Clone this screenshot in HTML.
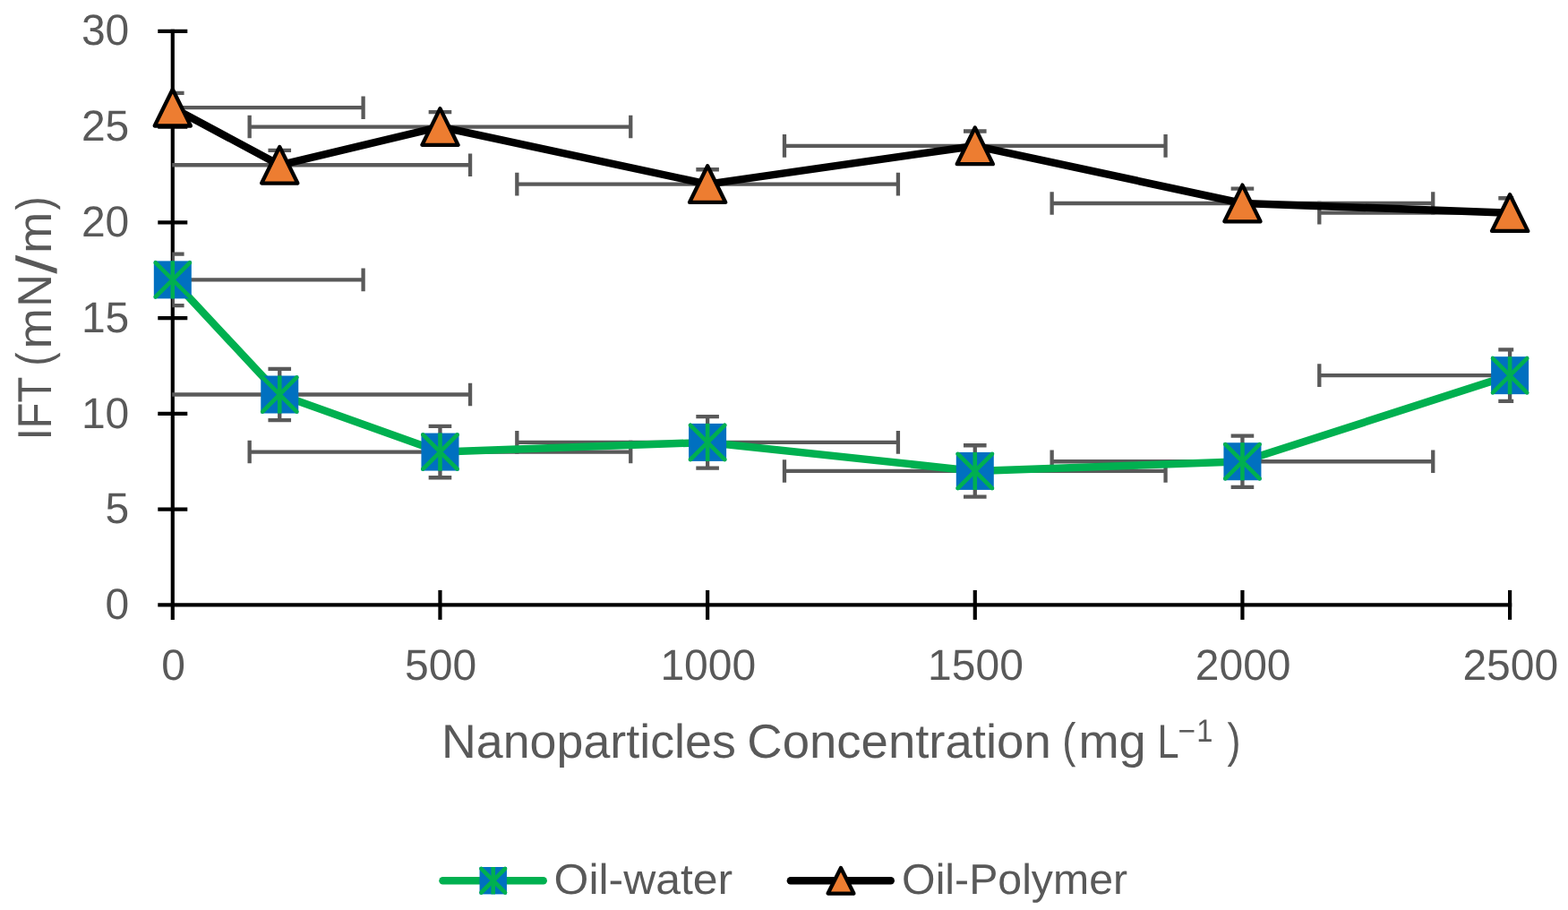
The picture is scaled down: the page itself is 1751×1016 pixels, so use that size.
<!DOCTYPE html>
<html lang="en"><head><meta charset="utf-8"><title>IFT vs Nanoparticles Concentration</title>
<style>
html,body{margin:0;padding:0;background:#fff;}
body{width:1751px;height:1016px;overflow:hidden;}
svg{display:block;}
text{font-family:"Liberation Sans",sans-serif;fill:#595959;text-rendering:geometricPrecision;}
.ax{stroke:#000;stroke-width:4.2;fill:none;stroke-linecap:butt;}
.eb{stroke:#595959;stroke-width:4.3;fill:none;stroke-linecap:butt;}
.ln{fill:none;stroke-width:8.5;stroke-linejoin:round;stroke-linecap:round;}
.sq{fill:#0070C0;}
.st{stroke:#00B050;stroke-width:4.6;stroke-linecap:round;fill:none;}
.sv{stroke-linecap:butt;}
.tr{fill:#ED7D31;stroke:#000;stroke-width:4.3;stroke-linejoin:round;}
</style></head><body>
<svg width="1751" height="1016" viewBox="0 0 1751 1016" role="img" aria-label="IFT (mN/m) versus nanoparticles concentration (mg L-1) for Oil-water and Oil-Polymer">
<rect width="1751" height="1016" fill="#fff"/>
<defs><clipPath id="plot"><rect x="192.2" y="32.8" width="1498" height="644.6"/></clipPath></defs>
<g class="ax">
<line x1="192.8" y1="32.7" x2="192.8" y2="691.9"/>
<line x1="176.3" y1="675.4" x2="1688.2" y2="675.4"/>
<line x1="176.3" y1="568.63" x2="209.3" y2="568.63"/>
<line x1="176.3" y1="461.87" x2="209.3" y2="461.87"/>
<line x1="176.3" y1="355.1" x2="209.3" y2="355.1"/>
<line x1="176.3" y1="248.33" x2="209.3" y2="248.33"/>
<line x1="176.3" y1="141.57" x2="209.3" y2="141.57"/>
<line x1="176.3" y1="34.8" x2="209.3" y2="34.8"/>
<line x1="491.46" y1="658.9" x2="491.46" y2="691.9"/>
<line x1="790.12" y1="658.9" x2="790.12" y2="691.9"/>
<line x1="1088.78" y1="658.9" x2="1088.78" y2="691.9"/>
<line x1="1387.44" y1="658.9" x2="1387.44" y2="691.9"/>
<line x1="1686.1" y1="658.9" x2="1686.1" y2="691.9"/>
</g>
<g class="eb" clip-path="url(#plot)">
<path d="M-20 312.39H405.6M-20 299.59V325.19M405.6 299.59V325.19M192.8 283.69V341.09M180 283.69H205.6M180 341.09H205.6"/>
<path d="M99.46 440.51H525.06M99.46 427.71V453.31M525.06 427.71V453.31M312.26 411.81V469.21M299.46 411.81H325.06M299.46 469.21H325.06"/>
<path d="M278.66 504.57H704.26M278.66 491.77V517.37M704.26 491.77V517.37M491.46 475.87V533.27M478.66 475.87H504.26M478.66 533.27H504.26"/>
<path d="M577.32 493.9H1002.92M577.32 481.1V506.7M1002.92 481.1V506.7M790.12 465.2V522.6M777.32 465.2H802.92M777.32 522.6H802.92"/>
<path d="M875.98 525.93H1301.58M875.98 513.13V538.73M1301.58 513.13V538.73M1088.78 497.23V554.63M1075.98 497.23H1101.58M1075.98 554.63H1101.58"/>
<path d="M1174.64 515.25H1600.24M1174.64 502.45V528.05M1600.24 502.45V528.05M1387.44 486.55V543.95M1374.64 486.55H1400.24M1374.64 543.95H1400.24"/>
<path d="M1473.3 419.16H1898.9M1473.3 406.36V431.96M1898.9 406.36V431.96M1686.1 390.46V447.86M1673.3 390.46H1698.9M1673.3 447.86H1698.9"/>
</g>
<g class="eb" clip-path="url(#plot)">
<path d="M-20 120.21H405.6M-20 107.41V133.01M405.6 107.41V133.01M192.8 103.81V136.61M180 103.81H205.6M180 136.61H205.6"/>
<path d="M99.46 184.27H525.06M99.46 171.47V197.07M525.06 171.47V197.07M312.26 167.87V200.67M299.46 167.87H325.06M299.46 200.67H325.06"/>
<path d="M278.66 141.57H704.26M278.66 128.77V154.37M704.26 128.77V154.37M491.46 125.17V157.97M478.66 125.17H504.26M478.66 157.97H504.26"/>
<path d="M577.32 205.63H1002.92M577.32 192.83V218.43M1002.92 192.83V218.43M790.12 189.23V222.03M777.32 189.23H802.92M777.32 222.03H802.92"/>
<path d="M875.98 162.92H1301.58M875.98 150.12V175.72M1301.58 150.12V175.72M1088.78 146.52V179.32M1075.98 146.52H1101.58M1075.98 179.32H1101.58"/>
<path d="M1174.64 226.98H1600.24M1174.64 214.18V239.78M1600.24 214.18V239.78M1387.44 210.58V243.38M1374.64 210.58H1400.24M1374.64 243.38H1400.24"/>
<path d="M1473.3 237.66H1898.9M1473.3 224.86V250.46M1898.9 224.86V250.46M1686.1 221.26V254.06M1673.3 221.26H1698.9M1673.3 254.06H1698.9"/>
</g>
<polyline class="ln" stroke="#00B050" points="192.8,312.39 312.26,440.51 491.46,504.57 790.12,493.9 1088.78,525.93 1387.44,515.25 1686.1,419.16"/>
<g><rect class="sq" x="171.8" y="291.39" width="42" height="42"/><path class="st" d="M173.7 293.29L211.9 331.49M211.9 293.29L173.7 331.49"/><path class="st sv" d="M192.8 291.39V333.39"/></g>
<g><rect class="sq" x="291.26" y="419.51" width="42" height="42"/><path class="st" d="M293.16 421.41L331.36 459.61M331.36 421.41L293.16 459.61"/><path class="st sv" d="M312.26 419.51V461.51"/></g>
<g><rect class="sq" x="470.46" y="483.57" width="42" height="42"/><path class="st" d="M472.36 485.47L510.56 523.67M510.56 485.47L472.36 523.67"/><path class="st sv" d="M491.46 483.57V525.57"/></g>
<g><rect class="sq" x="769.12" y="472.9" width="42" height="42"/><path class="st" d="M771.02 474.8L809.22 513M809.22 474.8L771.02 513"/><path class="st sv" d="M790.12 472.9V514.9"/></g>
<g><rect class="sq" x="1067.78" y="504.93" width="42" height="42"/><path class="st" d="M1069.68 506.83L1107.88 545.03M1107.88 506.83L1069.68 545.03"/><path class="st sv" d="M1088.78 504.93V546.93"/></g>
<g><rect class="sq" x="1366.44" y="494.25" width="42" height="42"/><path class="st" d="M1368.34 496.15L1406.54 534.35M1406.54 496.15L1368.34 534.35"/><path class="st sv" d="M1387.44 494.25V536.25"/></g>
<g><rect class="sq" x="1665.1" y="398.16" width="42" height="42"/><path class="st" d="M1667 400.06L1705.2 438.26M1705.2 400.06L1667 438.26"/><path class="st sv" d="M1686.1 398.16V440.16"/></g>
<polyline class="ln" stroke="#000" points="192.8,120.21 312.26,184.27 491.46,141.57 790.12,205.63 1088.78,162.92 1387.44,226.98 1686.1,237.66"/>
<path class="tr" d="M192.8 99.81L212.9 140.51H172.7Z"/>
<path class="tr" d="M312.26 163.87L332.36 204.57H292.16Z"/>
<path class="tr" d="M491.46 121.17L511.56 161.87H471.36Z"/>
<path class="tr" d="M790.12 185.23L810.22 225.93H770.02Z"/>
<path class="tr" d="M1088.78 142.52L1108.88 183.22H1068.68Z"/>
<path class="tr" d="M1387.44 206.58L1407.54 247.28H1367.34Z"/>
<path class="tr" d="M1686.1 217.26L1706.2 257.96H1666Z"/>
<text transform="translate(144.3 691.05) scale(0.9900 1.0000)" font-size="48.5" text-anchor="end">0</text>
<text transform="translate(144.3 584.28) scale(0.9900 1.0000)" font-size="48.5" text-anchor="end">5</text>
<text transform="translate(144.3 477.52) scale(0.9900 1.0000)" font-size="48.5" text-anchor="end">10</text>
<text transform="translate(144.3 370.75) scale(0.9900 1.0000)" font-size="48.5" text-anchor="end">15</text>
<text transform="translate(144.3 263.98) scale(0.9900 1.0000)" font-size="48.5" text-anchor="end">20</text>
<text transform="translate(144.3 157.22) scale(0.9900 1.0000)" font-size="48.5" text-anchor="end">25</text>
<text transform="translate(144.3 50.45) scale(0.9900 1.0000)" font-size="48.5" text-anchor="end">30</text>
<text transform="translate(193.5 758.75) scale(0.9900 1.0000)" font-size="48.5" text-anchor="middle">0</text>
<text transform="translate(492.16 758.75) scale(0.9900 1.0000)" font-size="48.5" text-anchor="middle">500</text>
<text transform="translate(790.82 758.75) scale(0.9900 1.0000)" font-size="48.5" text-anchor="middle">1000</text>
<text transform="translate(1089.48 758.75) scale(0.9900 1.0000)" font-size="48.5" text-anchor="middle">1500</text>
<text transform="translate(1388.14 758.75) scale(0.9900 1.0000)" font-size="48.5" text-anchor="middle">2000</text>
<text transform="translate(1686.8 758.75) scale(0.9900 1.0000)" font-size="48.5" text-anchor="middle">2500</text>
<text><tspan x="492.96" y="846" font-size="53.2" textLength="328.82" lengthAdjust="spacingAndGlyphs">Nanoparticles</tspan> <tspan x="834.31" y="846" font-size="53.2" textLength="339.43" lengthAdjust="spacingAndGlyphs">Concentration</tspan> <tspan x="1186.18" y="844.55" font-size="53.99" textLength="15.11" lengthAdjust="spacingAndGlyphs">(</tspan><tspan x="1204.41" y="846" font-size="53.2" textLength="75.38" lengthAdjust="spacingAndGlyphs">mg</tspan> <tspan x="1292.52" y="846" font-size="53.2" textLength="24.15" lengthAdjust="spacingAndGlyphs">L</tspan><tspan x="1315.57" y="828.3" font-size="35.2" textLength="19.58" lengthAdjust="spacingAndGlyphs">&#8722;</tspan><tspan x="1336.21" y="828.4" font-size="35.72" textLength="18.19" lengthAdjust="spacingAndGlyphs">1</tspan> <tspan x="1370.6" y="844.57" font-size="53.62" textLength="15" lengthAdjust="spacingAndGlyphs">)</tspan></text>
<text transform="rotate(-90)"><tspan x="-491.35" y="56.9" font-size="53.2" textLength="70.55" lengthAdjust="spacingAndGlyphs">IFT</tspan> <tspan x="-408.42" y="55.88" font-size="54.05" textLength="15.12" lengthAdjust="spacingAndGlyphs">(</tspan><tspan x="-389.62" y="56.9" font-size="53.2" textLength="45.5" lengthAdjust="spacingAndGlyphs">m</tspan><tspan x="-342.78" y="56.9" font-size="53.2" textLength="36.58" lengthAdjust="spacingAndGlyphs">N</tspan><tspan x="-305.8" y="63.07" font-size="63.13" textLength="20.94" lengthAdjust="spacingAndGlyphs">/</tspan><tspan x="-282.99" y="56.9" font-size="53.2" textLength="46.45" lengthAdjust="spacingAndGlyphs">m</tspan><tspan x="-234.6" y="55.88" font-size="54.05" textLength="15.12" lengthAdjust="spacingAndGlyphs">)</tspan></text>
<line class="ln" stroke="#00B050" x1="494.5" y1="983.2" x2="606.7" y2="983.2"/>
<g><rect class="sq" x="535.55" y="968" width="30.4" height="30.4"/><path class="st" d="M537.45 969.9L564.05 996.5M564.05 969.9L537.45 996.5"/><path class="st sv" d="M550.75 968V998.4"/></g>
<text><tspan x="618.63" y="998.4" font-size="47.5" textLength="199.61" lengthAdjust="spacingAndGlyphs">Oil-water</tspan></text>
<line class="ln" stroke="#000" x1="882.9" y1="983.2" x2="994.7" y2="983.2"/>
<path class="tr" d="M939 968.95L953.4 997.55H924.6Z"/>
<text><tspan x="1007.11" y="998.4" font-size="47.5" textLength="251.98" lengthAdjust="spacingAndGlyphs">Oil-Polymer</tspan></text>
</svg>
</body></html>
